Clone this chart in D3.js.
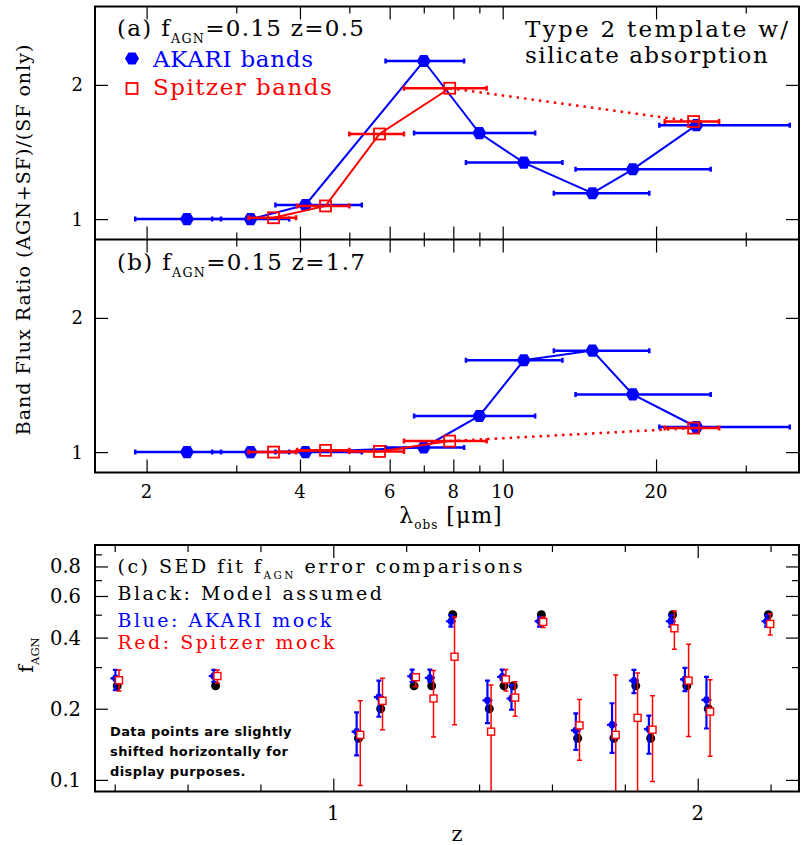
<!DOCTYPE html>
<html>
<head>
<script src="https://d3js.org/d3.v7.min.js"></script>
<style>
  body { margin: 0; background: #fff; }
  svg text { font-family: "DejaVu Serif", serif; }
</style>
</head>
<body>
<div id="chart"></div>
<script>
// ---- panels (a),(b): band flux ratios ----
// AKARI IRC bands: centre wavelength and band edges (micron)
const akariWave = [2.4, 3.2, 4.1, 7.0, 9.0, 11.0, 15.0, 18.0, 24.0];
const akariLo   = [1.9, 2.69, 3.58, 5.89, 6.7, 8.47, 12.6, 13.9, 20.3];
const akariHi   = [2.8, 3.81, 5.29, 8.4, 11.58, 13.1, 19.4, 25.6, 36.6];
const akariRatioA = [1.0, 1.0, 1.105, 2.178, 1.641, 1.421, 1.193, 1.371, 1.70];
const akariRatioB = [1.0, 1.0, 1.0, 1.035, 1.269, 1.684, 1.756, 1.43, 1.187];

// Spitzer IRAC + MIPS24
const spitzerWave = [3.55, 4.49, 5.73, 7.87, 23.7];
const spitzerLo   = [3.17, 3.95, 5.0, 6.4, 20.8];
const spitzerHi   = [3.93, 5.0, 6.4, 9.3, 26.6];
const spitzerRatioA = [1.01, 1.098, 1.634, 1.975, 1.727];
const spitzerRatioB = [1.0, 1.013, 1.005, 1.082, 1.179];

const waveTicksMajor = [2, 4, 6, 8, 10, 20];
const waveTicksMinor = [3, 5, 7, 9, 30];
const ratioTicks = [1, 2];

// ---- panel (c): fAGN fits ----
const zGroup = [0.407, 0.677, 1.069, 1.130, 1.2215, 1.27, 1.3277, 1.428, 1.4685, 1.494,
                1.571, 1.6706, 1.770, 1.83, 1.871, 1.931, 1.97, 2.029, 2.194];
const fModel = [0.25, 0.25, 0.15, 0.2, 0.25, 0.25, 0.5, 0.2, 0.25, 0.25,
                0.5, 0.15, 0.15, 0.25, 0.15, 0.5, 0.25, 0.2, 0.5];
const fAkari   = [0.269, 0.275, 0.160, 0.224, 0.2745, 0.270, 0.469, 0.217, 0.273, 0.221,
                  0.469, 0.162, 0.171, 0.263, 0.164, 0.469, 0.266, 0.218, 0.469];
const fAkariLo = [0.240, 0.260, 0.127, 0.185, 0.260, 0.260, 0.445, 0.174, 0.264, 0.198,
                  0.445, 0.134, 0.130, 0.233, 0.129, 0.445, 0.2375, 0.165, 0.445];
const fAkariHi = [0.292, 0.292, 0.193, 0.263, 0.293, 0.293, 0.498, 0.263, 0.293, 0.252,
                  0.490, 0.191, 0.211, 0.292, 0.187, 0.498, 0.298, 0.273, 0.498];
const fSpitzer   = [0.264, 0.275, 0.155, 0.216, 0.272, 0.221, 0.332, 0.160, 0.266, 0.223,
                    0.466, 0.170, 0.155, 0.183, 0.163, 0.438, 0.263, 0.1945, 0.457];
const fSpitzerLo = [0.2375, 0.257, 0.0946, 0.163, 0.248, 0.152, 0.171, 0.07, 0.238, 0.186,
                    0.441, 0.121, 0.07, 0.07, 0.0984, 0.357, 0.1525, 0.126, 0.41];
const fSpitzerHi = [0.292, 0.292, 0.216, 0.269, 0.269, 0.290, 0.489, 0.252, 0.293, 0.260,
                    0.489, 0.219, 0.278, 0.283, 0.227, 0.518, 0.375, 0.265, 0.505];
const zShift = 0.005;

const fTicksMajor = [0.1, 0.2, 0.4, 0.6, 0.8];
const fTicksMinor = [0.3, 0.5, 0.7, 0.9];
const zTicksMajor = [1, 2];
const zTicksMinor = [0.4, 0.6, 0.8, 1.2, 1.4, 1.6, 1.8, 2.2];

// layout
const width = 801, height = 845;
const left = 95, right = 799;
const topA = 6.5, midAB = 239.5, botB = 472.5;
const topC = 545, botC = 791.5;
const BLUE = "#0000ff", RED = "#ff0000";

const svg = d3.select("#chart").append("svg")
  .attr("width", width).attr("height", height);

const x = d3.scaleLog().domain([1.584, 38.16]).range([left, right]);
const yA = d3.scaleLinear().domain([0.848, 2.584]).range([midAB, topA]);
const yB = d3.scaleLinear().domain([0.848, 2.584]).range([botB, midAB]);

function hexPath(r) {
  const pts = d3.range(6).map(i => {
    const a = i * Math.PI / 3;
    return [r * Math.cos(a), r * Math.sin(a)];
  });
  return "M" + pts.join("L") + "Z";
}

// draws inward ticks on all 4 sides
function ticks(g, xs, ys, x0, x1, y0, y1, opts) {
  const mk = (axis, tr, len, vals) => {
    const a = g.append("g").attr("transform", tr)
      .call(axis.tickValues(vals).tickSize(-len).tickSizeOuter(0).tickFormat(() => ""));
    a.select(".domain").remove();
    a.selectAll("line").attr("stroke", "#000").attr("stroke-width", 1.2);
  };
  [[opts.xMaj, 13], [opts.xMin, 7]].forEach(([v, len]) => {
    mk(d3.axisTop(xs), `translate(0,${y0})`, len, v);
    mk(d3.axisBottom(xs), `translate(0,${y1})`, len, v);
  });
  [[opts.yMaj, 13], [opts.yMin, 7]].forEach(([v, len]) => {
    mk(d3.axisLeft(ys), `translate(${x0},0)`, len, v);
    mk(d3.axisRight(ys), `translate(${x1},0)`, len, v);
  });
}

function panelAB(y, akariRatio, spitzerRatio, yTop, yBot) {
  const g = svg.append("g");
  const akari = akariWave.map((w, i) => ({ w, lo: akariLo[i], hi: akariHi[i], r: akariRatio[i] }));
  const spitzer = spitzerWave.map((w, i) => ({ w, lo: spitzerLo[i], hi: spitzerHi[i], r: spitzerRatio[i] }));
  const line = d3.line().x(d => x(d.w)).y(d => y(d.r));
  const errPath = d => `M${x(d.lo)},${y(d.r)}H${x(d.hi)}M${x(d.lo)},${y(d.r) - 2.5}v5M${x(d.hi)},${y(d.r) - 2.5}v5`;

  g.append("path").datum(akari).attr("d", line)
    .attr("fill", "none").attr("stroke", BLUE).attr("stroke-width", 2);
  g.selectAll(".eb").data(akari).join("path").attr("d", errPath)
    .attr("fill", "none").attr("stroke", BLUE).attr("stroke-width", 2.5);
  g.selectAll(".hx").data(akari).join("path")
    .attr("d", hexPath(7))
    .attr("transform", d => `translate(${x(d.w)},${y(d.r)})`)
    .attr("fill", BLUE);

  g.append("path").datum(spitzer.slice(0, 4)).attr("d", line)
    .attr("fill", "none").attr("stroke", RED).attr("stroke-width", 2);
  g.append("path").datum(spitzer.slice(3)).attr("d", line)
    .attr("fill", "none").attr("stroke", RED).attr("stroke-width", 2.5)
    .attr("stroke-dasharray", "2.5,5");
  g.selectAll(".er").data(spitzer).join("path").attr("d", errPath)
    .attr("fill", "none").attr("stroke", RED).attr("stroke-width", 2.5);
  g.selectAll(".sq").data(spitzer).join("rect")
    .attr("x", d => x(d.w) - 5.5).attr("y", d => y(d.r) - 5.5)
    .attr("width", 11).attr("height", 11)
    .attr("fill", "none").attr("stroke", RED).attr("stroke-width", 1.8);

  ticks(g, x, y, left, right, yTop, yBot,
    { xMaj: waveTicksMajor, xMin: waveTicksMinor, yMaj: ratioTicks, yMin: [] });

  // y tick labels
  g.selectAll(".yl").data(ratioTicks).join("text")
    .attr("x", left - 12).attr("y", d => y(d)).attr("dy", "0.36em")
    .attr("text-anchor", "end").style("font-size", "18px").text(d => d);
}

panelAB(yA, akariRatioA, spitzerRatioA, topA, midAB);
panelAB(yB, akariRatioB, spitzerRatioB, midAB, botB);

// frames
svg.append("rect").attr("x", left).attr("y", topA).attr("width", right - left).attr("height", botB - topA)
  .attr("fill", "none").attr("stroke", "#000").attr("stroke-width", 2);
svg.append("line").attr("x1", left).attr("x2", right).attr("y1", midAB).attr("y2", midAB)
  .attr("stroke", "#000").attr("stroke-width", 2);

// x tick labels (b)
svg.selectAll(".xl").data(waveTicksMajor).join("text")
  .attr("x", d => x(d)).attr("y", botB + 25.5)
  .attr("text-anchor", "middle").style("font-size", "18px").text(d => d);

// text with an f_AGN subscript
function fText(xp, yp, pre, post, size, spacing) {
  const t = svg.append("text").attr("x", xp).attr("y", yp)
    .style("font-size", size + "px").style("letter-spacing", spacing + "px");
  t.append("tspan").text(pre);
  t.append("tspan").attr("dy", size * 0.3).style("font-size", (size * 0.55) + "px").text("AGN");
  t.append("tspan").attr("dy", -size * 0.3).text(post);
  return t;
}
fText(117, 36, "(a) f", "=0.15 z=0.5", 23, 1.3);
fText(117, 270, "(b) f", "=0.15 z=1.7", 23, 1.3);

svg.append("text").attr("x", 525).attr("y", 37).style("font-size", "23px")
  .style("letter-spacing", "2.3px").text("Type 2 template w/");
svg.append("text").attr("x", 525).attr("y", 63).style("font-size", "23px")
  .style("letter-spacing", "1.5px").text("silicate absorption");

svg.append("path").attr("d", hexPath(7)).attr("transform", "translate(132,58.5)").attr("fill", BLUE);
svg.append("text").attr("x", 153).attr("y", 67).attr("fill", BLUE).style("font-size", "23px")
  .style("letter-spacing", "0.7px").text("AKARI bands");
svg.append("rect").attr("x", 126.5).attr("y", 83).attr("width", 11).attr("height", 11)
  .attr("fill", "none").attr("stroke", RED).attr("stroke-width", 1.8);
svg.append("text").attr("x", 153).attr("y", 95).attr("fill", RED).style("font-size", "23px")
  .style("letter-spacing", "1.5px").text("Spitzer bands");

svg.append("text").attr("transform", `translate(30,${(topA + botB) / 2}) rotate(-90)`)
  .attr("text-anchor", "middle").style("font-size", "19px").style("letter-spacing", "1px")
  .text("Band Flux Ratio (AGN+SF)/(SF only)");

const xl = svg.append("text").attr("x", 451).attr("y", 523).attr("text-anchor", "middle")
  .style("font-size", "22px").style("letter-spacing", "1px");
xl.append("tspan").text("λ");
xl.append("tspan").attr("dy", 6).style("font-size", "12px").text("obs");
xl.append("tspan").attr("dy", -6).text(" [μm]");

// ---- panel (c) ----
const zx = d3.scaleLinear().domain([0.346, 2.278]).range([left, right]);
const fy = d3.scaleLog().domain([0.0893, 0.986]).range([botC, topC]);

svg.append("clipPath").attr("id", "clipC").append("rect")
  .attr("x", left).attr("y", topC).attr("width", right - left).attr("height", botC - topC);

const gc = svg.append("g");
ticks(gc, zx, fy, left, right, topC, botC,
  { xMaj: zTicksMajor, xMin: zTicksMinor, yMaj: fTicksMajor, yMin: fTicksMinor });

const pts = gc.append("g").attr("clip-path", "url(#clipC)");
const groups = zGroup.map((z, i) => ({
  z, m: fModel[i],
  a: fAkari[i], aLo: fAkariLo[i], aHi: fAkariHi[i],
  s: fSpitzer[i], sLo: fSpitzerLo[i], sHi: fSpitzerHi[i]
}));

pts.selectAll(".blk").data(groups).join("circle")
  .attr("cx", d => zx(d.z)).attr("cy", d => fy(d.m)).attr("r", 4.5).attr("fill", "#000");

const vErr = (xp, lo, hi) => `M${xp},${fy(lo)}V${fy(hi)}M${xp - 2.5},${fy(lo)}h5M${xp - 2.5},${fy(hi)}h5`;
pts.selectAll(".be").data(groups).join("path")
  .attr("d", d => vErr(zx(d.z - zShift), d.aLo, d.aHi))
  .attr("fill", "none").attr("stroke", BLUE).attr("stroke-width", 2.2);
pts.selectAll(".bm").data(groups).join("path")
  .attr("d", d => { const xp = zx(d.z - zShift), yp = fy(d.a);
    return `M${xp - 5},${yp}H${xp + 5}`; })
  .attr("stroke", BLUE).attr("stroke-width", 2.2);
pts.selectAll(".bh").data(groups).join("path")
  .attr("d", hexPath(4))
  .attr("transform", d => `translate(${zx(d.z - zShift)},${fy(d.a)})`)
  .attr("fill", BLUE);

pts.selectAll(".re").data(groups).join("path")
  .attr("d", d => vErr(zx(d.z + zShift), d.sLo, d.sHi))
  .attr("fill", "none").attr("stroke", RED).attr("stroke-width", 1.5);
pts.selectAll(".rs").data(groups).join("rect")
  .attr("x", d => zx(d.z + zShift) - 3.5).attr("y", d => fy(d.s) - 3.5)
  .attr("width", 7).attr("height", 7)
  .attr("fill", "#fff").attr("stroke", RED).attr("stroke-width", 1.4);

svg.append("rect").attr("x", left).attr("y", topC).attr("width", right - left).attr("height", botC - topC)
  .attr("fill", "none").attr("stroke", "#000").attr("stroke-width", 2);

svg.selectAll(".fl").data(fTicksMajor).join("text")
  .attr("x", left - 14).attr("y", d => fy(d)).attr("dy", "0.36em")
  .attr("text-anchor", "end").style("font-size", "19.5px").text(d => d);
svg.selectAll(".zl").data(zTicksMajor).join("text")
  .attr("x", d => zx(d)).attr("y", 820)
  .attr("text-anchor", "middle").style("font-size", "19.5px").text(d => d);

svg.append("text").attr("x", 457).attr("y", 841).attr("text-anchor", "middle")
  .style("font-size", "21px").text("z");
const fl = svg.append("text").attr("transform", "translate(33,655) rotate(-90)")
  .attr("text-anchor", "middle").style("font-size", "21px");
fl.append("tspan").text("f");
fl.append("tspan").attr("dy", 6).style("font-size", "11.5px").text("AGN");

fText(117.5, 573, "(c) SED fit f", " error comparisons", 19, 2.5);
svg.append("text").attr("x", 117.5).attr("y", 600).style("font-size", "19px")
  .style("letter-spacing", "2.5px").text("Black: Model assumed");
svg.append("text").attr("x", 117.5).attr("y", 626.5).attr("fill", BLUE).style("font-size", "19px")
  .style("letter-spacing", "2.5px").text("Blue: AKARI mock");
svg.append("text").attr("x", 117.5).attr("y", 648.5).attr("fill", RED).style("font-size", "19px")
  .style("letter-spacing", "2.5px").text("Red: Spitzer mock");

const note = ["Data points are slightly", "shifted horizontally for", "display purposes."];
svg.selectAll(".note").data(note).join("text")
  .attr("x", 110).attr("y", (d, i) => 735.5 + i * 20)
  .style("font-family", "'DejaVu Sans', sans-serif").style("font-weight", "bold")
  .style("font-size", "13px").style("letter-spacing", "0.4px").text(d => d);
</script>
</body>
</html>
